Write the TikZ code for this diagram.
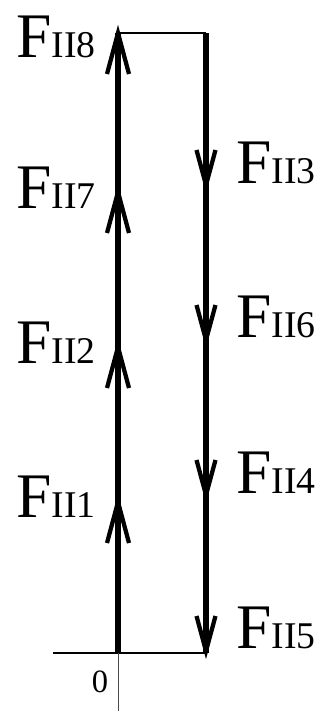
\documentclass[tikz,border=0pt]{standalone}
\usepackage{fontspec}
\setmainfont{Liberation Serif}
\newcommand{\flab}[1]{{\fontsize{47.6}{50}\selectfont F}{\fontsize{28.3}{30}\selectfont II#1}}
\begin{document}
\begin{tikzpicture}[x=0.75pt,y=-0.75pt,
  thickln/.style={line width=4.5pt},
  thinln/.style={line width=1.1pt},
  axisln/.style={line width=0.6pt, black!70},
  vhead/.style={line width=3.2pt, line join=miter, miter limit=20},
  lab/.style={inner sep=0pt, anchor=base west}]
\useasboundingbox (0,0) rectangle (320,711);
% vertices of the force polygon
\coordinate (A) at (118,653);
\coordinate (B) at (118,33);
\coordinate (C) at (206,33);
\coordinate (D) at (206,653);
\coordinate (L) at (53,653);
\coordinate (E) at (118,711);
% tip positions
\coordinate (u8) at (118,33);
\coordinate (u7) at (118,192);
\coordinate (u2) at (118,347);
\coordinate (u1) at (118,502);
\coordinate (d3) at (206,185);
\coordinate (d6) at (206,340);
\coordinate (d4) at (206,495);
\coordinate (d5) at (206,651);
% lines
\draw[thinln] (B) -- (C);
\draw[thinln] (L) -- (D);
\draw[axisln] (A) -- (E);
\draw[thickln] (A) -- (B);
\draw[thickln] (C) -- (D);
% arrow heads
\foreach \t in {u8,u7,u2,u1}
  \draw[vhead] ([shift={(-11,41)}]\t) -- (\t) -- ([shift={(11,41)}]\t);
\foreach \t in {d3,d6,d4,d5}
  \draw[vhead] ([shift={(-9.5,-35)}]\t) -- (\t) -- ([shift={(9.5,-35)}]\t);
% labels
\node[lab] (l8) at (16,57) {\flab{8}};
\node[lab] (l7) at (16,208) {\flab{7}};
\node[lab] (l2) at (16,363) {\flab{2}};
\node[lab] (l1) at (16,517) {\flab{1}};
\node[lab] (l3) at (236,183) {\flab{3}};
\node[lab] (l6) at (236,337) {\flab{6}};
\node[lab] (l4) at (236,493) {\flab{4}};
\node[lab] (l5) at (236,648) {\flab{5}};
\node[inner sep=0pt, anchor=base] (zero) at (100,692) {\fontsize{24.4}{26}\selectfont 0};
\end{tikzpicture}
\end{document}
